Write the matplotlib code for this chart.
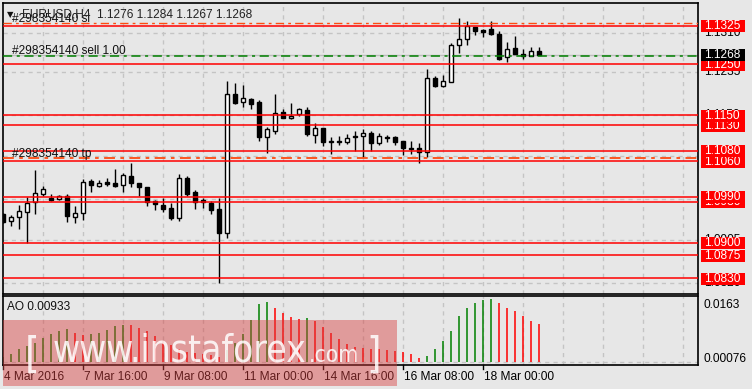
import matplotlib
matplotlib.use('Agg')
import matplotlib.pyplot as plt
import matplotlib.transforms as mtransforms
from matplotlib.patches import Rectangle
import numpy as np

# ---------------- data ----------------
opens = [1.0956, 1.0943, 1.0950, 1.0960, 1.0980, 1.0995, 1.0987, 1.0985, 1.0991, 1.0951,
         1.0957, 1.1021, 1.1011, 1.1019, 1.1017, 1.1013, 1.1030, 1.1016, 1.1008, 1.0981,
         1.0974, 1.0968, 1.0949, 1.1026, 1.0999, 1.0983, 1.0978, 1.0965, 1.0918, 1.1191,
         1.1176, 1.1181, 1.1175, 1.1107, 1.1119, 1.1155, 1.1144, 1.1151, 1.1160, 1.1111,
         1.1124, 1.1097, 1.1100, 1.1097, 1.1108, 1.1109, 1.1115, 1.1095, 1.1107, 1.1107,
         1.1099, 1.1085, 1.1085, 1.1078, 1.1222, 1.1207, 1.1215, 1.1287, 1.1298, 1.1323,
         1.1317, 1.1318, 1.1309, 1.1263, 1.1281, 1.1270, 1.1266, 1.1276]
highs = [1.0958, 1.0954, 1.0974, 1.0989, 1.1042, 1.1011, 1.0995, 1.0993, 1.0995, 1.0972,
         1.1024, 1.1025, 1.1023, 1.1026, 1.1044, 1.1036, 1.1056, 1.1017, 1.1009, 1.0984,
         1.0988, 1.0978, 1.1034, 1.1030, 1.1003, 1.0987, 1.0982, 1.0988, 1.1217, 1.1212,
         1.1209, 1.1183, 1.1179, 1.1127, 1.1191, 1.1162, 1.1174, 1.1163, 1.1166, 1.1135,
         1.1125, 1.1107, 1.1108, 1.1113, 1.1119, 1.1122, 1.1119, 1.1115, 1.1111, 1.1109,
         1.1100, 1.1099, 1.1095, 1.1240, 1.1226, 1.1228, 1.1292, 1.1340, 1.1334, 1.1323,
         1.1319, 1.1334, 1.1315, 1.1293, 1.1305, 1.1279, 1.1283, 1.1284]
lows = [1.0938, 1.0933, 1.0927, 1.0900, 1.0956, 1.0991, 1.0982, 1.0984, 1.0941, 1.0938,
        1.0944, 1.1000, 1.1008, 1.1011, 1.1009, 1.1000, 1.1009, 1.0991, 1.0972, 1.0964,
        1.0959, 1.0944, 1.0943, 1.0992, 1.0966, 1.0968, 1.0956, 1.0820, 1.0908, 1.1172,
        1.1166, 1.1161, 1.1100, 1.1076, 1.1113, 1.1144, 1.1142, 1.1148, 1.1109, 1.1095,
        1.1090, 1.1074, 1.1092, 1.1094, 1.1079, 1.1068, 1.1079, 1.1091, 1.1098, 1.1091,
        1.1072, 1.1073, 1.1055, 1.1068, 1.1204, 1.1204, 1.1215, 1.1272, 1.1287, 1.1307,
        1.1303, 1.1307, 1.1258, 1.1253, 1.1270, 1.1260, 1.1265, 1.1267]
closes = [1.0940, 1.0951, 1.0961, 1.0978, 1.0997, 1.1004, 1.0984, 1.0991, 1.0953, 1.0958,
          1.1019, 1.1012, 1.1017, 1.1015, 1.1011, 1.1032, 1.1016, 1.1008, 1.0980, 1.0975,
          1.0966, 1.0949, 1.1026, 1.0995, 1.0980, 1.0980, 1.0964, 1.0919, 1.1191, 1.1174,
          1.1183, 1.1172, 1.1107, 1.1122, 1.1153, 1.1145, 1.1149, 1.1161, 1.1113, 1.1124,
          1.1098, 1.1100, 1.1098, 1.1104, 1.1106, 1.1114, 1.1095, 1.1108, 1.1104, 1.1097,
          1.1085, 1.1083, 1.1078, 1.1222, 1.1207, 1.1217, 1.1287, 1.1299, 1.1324, 1.1315,
          1.1313, 1.1309, 1.1260, 1.1279, 1.1270, 1.1266, 1.1275, 1.1268]
ao = [0.0012, 0.00186, 0.00313, 0.0040, 0.00466, 0.00593, 0.00694, 0.00762, 0.00821, 0.00720,
      0.00669, 0.00694, 0.00711, 0.00796, 0.00897, 0.00923, 0.00906, 0.00847, 0.00762, 0.00635,
      0.00525, 0.00423, 0.00330, 0.00246, 0.00212, 0.00195, 0.0016, 0.0012, 0.0030, 0.0048,
      0.0069, 0.0103, 0.0144, 0.0148, 0.0133, 0.0120, 0.0110, 0.0107, 0.0109, 0.0101,
      0.00864, 0.00720, 0.00567, 0.00440, 0.00373, 0.0034, 0.0033, 0.0032, 0.00288, 0.00271,
      0.00254, 0.00195, 0.00093, 0.00144, 0.00322, 0.00508, 0.00762, 0.01135, 0.01338, 0.01448,
      0.01541, 0.01545, 0.01448, 0.01338, 0.01262, 0.01135, 0.01008, 0.00933]

levels = [1.0830, 1.0875, 1.0900, 1.0980, 1.0990, 1.1060, 1.1080, 1.1130, 1.1150, 1.1250, 1.1325]
grid_prices = [1.1310, 1.1235, 1.1150, 1.1070, 1.0985, 1.0905, 1.0820]
sl_price = 1.1330
sell_price = 1.1265
tp_price = 1.1065
order_id = "#298354140"
bid = closes[-1]
date_ticks = [0, 10, 20, 30, 40, 50, 60]
date_labels = ['4 Mar 2016', '7 Mar 16:00', '9 Mar 08:00', '11 Mar 00:00',
               '14 Mar 16:00', '16 Mar 08:00', '18 Mar 00:00']
ao_top_label = "0.0163"
ao_bottom_label = "0.00076"
ao_range = (-0.00076, 0.0163)
price_range = (1.07992, 1.13695)

# ---------------- style ----------------
W, H = 752, 389
BG = '#E7E7E7'
GRID = '#C4C4C4'
FONT = ['Liberation Sans', 'DejaVu Sans']
FS = 8.6

fig = plt.figure(figsize=(W / 100, H / 100), dpi=100, facecolor=BG)
ax = fig.add_axes([3 / W, 1 - 294 / H, 695 / W, 291 / H], facecolor=BG)
ax2 = fig.add_axes([3 / W, 1 - 365 / H, 695 / W, 69 / H], facecolor=BG)

n = len(opens)
x = np.arange(n)
nvis = 695 / 8.0

for a in (ax, ax2):
    a.set_xlim(0, nvis)
    a.set_xticks([])
    a.set_yticks([])
    for s in a.spines.values():
        s.set_color('black')
        s.set_linewidth(1.2)
    for gx in range(5, int(nvis) + 1, 5):
        a.axvline(gx, color=GRID, lw=1, ls=(0, (3, 3)), zorder=0.5)

ax.set_ylim(*price_range)
ax2.set_ylim(*ao_range)

for gp in grid_prices:
    ax.axhline(gp, color=GRID, lw=1, ls=(0, (3, 3)), zorder=0.5)

ax.axhline(bid, color='#BDBDBD', lw=1, zorder=0.8)

# candles
o = np.array(opens); c = np.array(closes); h = np.array(highs); l = np.array(lows)
ax.vlines(x, l, h, color='black', lw=1, zorder=2)
up = c >= o
body_bot = np.minimum(o, c)
body_h = np.maximum(np.abs(c - o), 0.00003)
ax.bar(x[up], body_h[up], bottom=body_bot[up], width=0.62, color='white',
       edgecolor='black', linewidth=1, zorder=2.5)
ax.bar(x[~up], body_h[~up], bottom=body_bot[~up], width=0.62, color='black',
       edgecolor='black', linewidth=1, zorder=2.5)

for lv in levels:
    ax.axhline(lv, color='#FF0000', lw=1.1, zorder=3)

ax.axhline(sl_price, color='#FF4A10', lw=1, ls=(0, (6, 3, 2, 3)), zorder=3.2)
ax.axhline(tp_price, color='#FF4A10', lw=1.3, ls=(0, (6, 3, 2, 3)), zorder=3.2)
ax.axhline(sell_price, color='#008000', lw=1.1, ls=(0, (6, 3, 2, 3)), zorder=3.2)

tr = mtransforms.blended_transform_factory(ax.transAxes, ax.transData)
px = 0.000196
tx = (12 - 3) / 695
ax.text(tx, sl_price + 1.3 * px, f"{order_id} sl", transform=tr, fontsize=FS,
        family=FONT, color='#111111', va='baseline', ha='left', zorder=5)
ax.text(tx, sell_price + 2.3 * px, f"{order_id} sell 1.00", transform=tr, fontsize=FS,
        family=FONT, color='#111111', va='baseline', ha='left', zorder=5)
ax.text(tx, tp_price + 1.5 * px, f"{order_id} tp", transform=tr, fontsize=FS,
        family=FONT, color='#111111', va='baseline', ha='left', zorder=5)

ax.text((7 - 3) / 695, 1 - (17 - 3) / 291, "\u25BC", transform=ax.transAxes,
        fontsize=6, family=['DejaVu Sans'], color='#111111', va='baseline', ha='left', zorder=5)
ax.text((22 - 3) / 695, 1 - (17 - 3) / 291,
        f"EURUSD,H4  {opens[-1]:.4f} {highs[-1]:.4f} {lows[-1]:.4f} {closes[-1]:.4f}",
        transform=ax.transAxes, fontsize=FS, family=FONT, color='#222222',
        va='baseline', ha='left', zorder=5)

lx = (704 - 3) / 695
for gp in grid_prices:
    ax.text(lx, gp, f"{gp:.4f}", transform=tr, fontsize=FS, family=FONT, color='black',
            va='center', ha='left', clip_on=False, zorder=5)

bx0 = (701 - 3) / 695
bw = 44 / 695
bh = 12 * px
for i, lv in enumerate(levels):
    ax.add_patch(Rectangle((bx0, lv - bh / 2 - 0.6 * px), bw, bh, transform=tr,
                           facecolor='#FF0000', edgecolor='none', clip_on=False, zorder=6 + i * 0.01))
    ax.text(lx, lv - 0.6 * px, f"{lv:.4f}", transform=tr, fontsize=FS, family=FONT, color='white',
            va='center', ha='left', clip_on=False, zorder=6.005 + i * 0.01)
ax.add_patch(Rectangle((bx0, bid - bh / 2), bw, bh, transform=tr,
                       facecolor='black', edgecolor='none', clip_on=False, zorder=6.5))
ax.text(lx, bid, f"{bid:.4f}", transform=tr, fontsize=FS, family=FONT, color='white',
        va='center', ha='left', clip_on=False, zorder=6.6)

# AO histogram
aov = np.array(ao)
cols = ['#008000' if (i == 0 or aov[i] >= aov[i - 1]) else '#FF0000' for i in range(n)]
ax2.vlines(x, 0, aov, colors=cols, lw=1.1, zorder=2)
ax2.axhline(0, color=GRID, lw=1, ls=(0, (3, 3)), zorder=1)
ax2.text((7 - 3) / 695, 1 - (307.5 - 296) / 69, f"AO {ao[-1]:.5f}", transform=ax2.transAxes,
         fontsize=FS, family=FONT, color='#111111', va='center', ha='left', zorder=5)
ax2.text(lx, 1 - (305 - 296) / 69, ao_top_label, transform=ax2.transAxes, fontsize=FS,
         family=FONT, color='black', va='center', ha='left', clip_on=False)
ax2.text(lx, 1 - (359 - 296) / 69, ao_bottom_label, transform=ax2.transAxes, fontsize=FS,
         family=FONT, color='black', va='center', ha='left', clip_on=False)

trd = mtransforms.blended_transform_factory(ax2.transData, ax2.transAxes)
for t, lab in zip(date_ticks, date_labels):
    ax2.plot([t, t], [0, -4 / 69], transform=trd, color='black', lw=1, clip_on=False)
    ax2.text(t + 1 / 8, -(377 - 365) / 69, lab, transform=trd, fontsize=FS, family=FONT,
             color='black', va='center', ha='left', clip_on=False)

# watermark
fig.patches.append(Rectangle((3 / W, 1 - 386 / H), 394 / W, 66 / H, transform=fig.transFigure,
                             facecolor=(0.85, 0.25, 0.25), alpha=0.45, edgecolor='none', zorder=10))
wm_kw = dict(color='white', alpha=0.85, family=['DejaVu Sans'], fontstretch='condensed',
             fontweight='light', va='baseline', ha='left', zorder=11)
renderer = fig.canvas.get_renderer()


def fit_text(x0, x1, ybase, s, size):
    t = fig.text(x0 / W, 1 - ybase / H, s, fontsize=size, **wm_kw)
    wpx = t.get_window_extent(renderer).width
    if wpx > 0:
        t.set_fontsize(size * (x1 - x0) / wpx)
    return t


fig.text(25 / W, 1 - 368 / H, "[", fontsize=30, **wm_kw)
fit_text(53, 307, 362, "www.instaforex", 33)
fit_text(309, 359, 362, ".com", 19)
fig.text(366 / W, 1 - 368 / H, "]", fontsize=30, **wm_kw)

fig.savefig('out.png', dpi=100, facecolor=BG)
